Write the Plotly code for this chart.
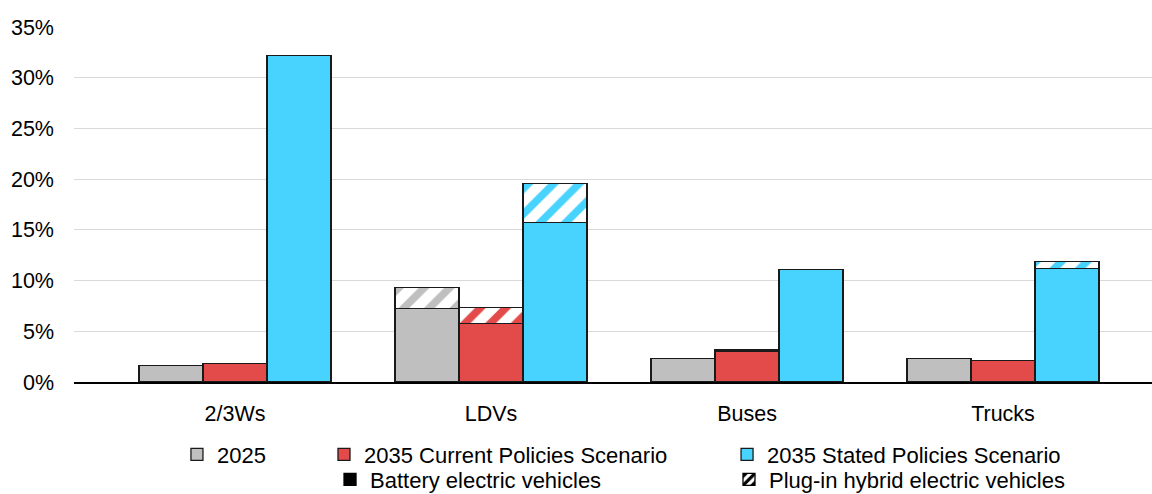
import plotly.graph_objects as go

categories = ["2/3Ws", "LDVs", "Buses", "Trucks"]

# Sales share (%) split into battery electric (solid) and plug-in hybrid (hatched)
bev_2025 = [1.63, 7.22, 2.3, 2.35]
phev_2025 = [None, 2.07, None, None]
bev_cps = [1.82, 5.8, 3.05, 2.12]
phev_cps = [None, 1.58, 0.12, None]
bev_sps = [32.2, 15.7, 11.1, 11.22]
phev_sps = [None, 3.85, None, 0.69]

series = [
    ("2025", "#BFBFBF", bev_2025, phev_2025, -0.25),
    ("2035 Current Policies Scenario", "#E34B4A", bev_cps, phev_cps, 0.0),
    ("2035 Stated Policies Scenario", "#48D3FF", bev_sps, phev_sps, 0.25),
]

FONT = "Liberation Sans, Arial, sans-serif"
OUT = "#1a1a1a"
positions = list(range(len(categories)))

fig = go.Figure()
for name, color, bev, phev, off in series:
    xs = [p + off for p in positions]
    fig.add_trace(go.Bar(
        x=xs, y=bev, width=0.25, name=name, showlegend=False,
        marker=dict(color=color, line=dict(color=OUT, width=1.3)),
        hoverinfo="y+name",
    ))
    fig.add_trace(go.Bar(
        x=xs, y=phev, width=0.25, name=name + " (PHEV)", showlegend=False,
        marker=dict(color="white", line=dict(color=OUT, width=1.3),
                    pattern=dict(shape="/", fgcolor=color, bgcolor="white",
                                 fgopacity=1, size=18, solidity=0.42)),
        hoverinfo="y+name",
    ))

# Legend-only entries
legend_items = [
    ("2025", dict(color="#BFBFBF", line=dict(color=OUT, width=1.3)), "legend", 0.0955, -0.2043),
    ("2035 Current Policies Scenario", dict(color="#E34B4A", line=dict(color=OUT, width=1.3)), "legend2", 0.2319, -0.2043),
    ("2035 Stated Policies Scenario", dict(color="#48D3FF", line=dict(color=OUT, width=1.3)), "legend3", 0.6058, -0.2043),
    ("Battery electric vehicles", dict(color="black", line=dict(color="black", width=1.3)), "legend4", 0.2375, -0.2750),
    ("Plug-in hybrid electric vehicles", dict(color="white", line=dict(color="black", width=1.3),
        pattern=dict(shape="/", fgcolor="black", bgcolor="white", fgopacity=1, size=8, solidity=0.5)), "legend5", 0.6076, -0.2750),
]
legend_layouts = {}
for name, marker, lg, lx, ly in legend_items:
    fig.add_trace(go.Bar(x=[None], y=[None], name=name, marker=marker,
                         legend=lg, showlegend=True, hoverinfo="skip"))
    legend_layouts[lg] = dict(
        x=lx, y=ly, xanchor="left", yanchor="middle", orientation="h",
        font=dict(family=FONT, size=22, color="black"),
        bgcolor="rgba(0,0,0,0)", borderwidth=0, itemwidth=30,
    )

fig.update_layout(
    width=1152, height=494,
    margin=dict(l=74, r=0, t=27, b=112, autoexpand=False),
    barmode="stack",
    plot_bgcolor="white", paper_bgcolor="white",
    font=dict(family=FONT, size=22, color="black"),
    **legend_layouts,
)
fig.update_xaxes(
    range=[-0.629, 3.582], tickvals=positions, ticktext=categories,
    showgrid=False, zeroline=False, showline=True, linecolor="black", linewidth=1.5,
    ticks="", ticklabelstandoff=11, tickfont=dict(family=FONT, size=21.5, color="black"),
)
fig.update_yaxes(
    range=[0, 35], dtick=5, ticksuffix="%", showgrid=True, gridcolor="#D9D9D9", gridwidth=1.3,
    zeroline=False, showline=False, ticks="", ticklabelstandoff=19,
    tickfont=dict(family=FONT, size=21.5, color="black"),
)

fig.write_html(
    "out.html",
    config={"displayModeBar": False},
    post_script="document.body.style.margin='0';document.body.style.overflow='hidden';",
)
